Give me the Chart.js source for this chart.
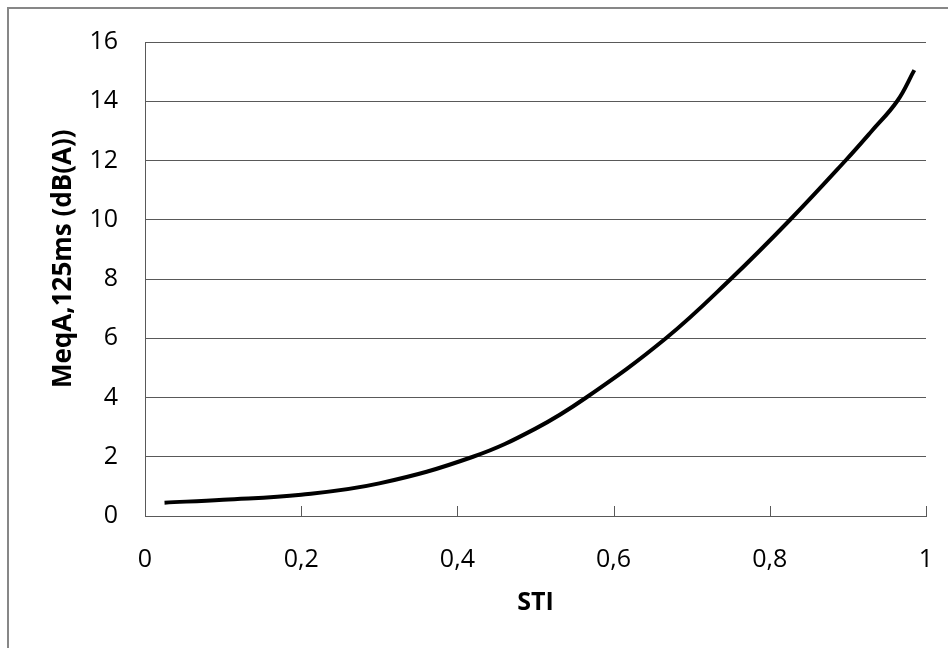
<!DOCTYPE html>
<html>
<head>
<meta charset="utf-8">
<script src="https://cdn.jsdelivr.net/npm/chart.js@4.4.1/dist/chart.umd.min.js"></script>
<style>
  html, body { margin: 0; padding: 0; background: #fff; }
  #wrap { position: relative; width: 948px; height: 648px; }
  #frame { position: absolute; left: 7px; top: 7px; width: 960px; height: 660px; border: 2px solid #878787; box-sizing: border-box; }
  canvas { position: absolute; left: 0; top: 0; }
</style>
</head>
<body>
<div id="wrap">
  <div id="frame"></div>
  <canvas id="chart" width="948" height="648"></canvas>
</div>
<script>
// STI vs MeqA,125ms curve
const sti  = [0.025, 0.1, 0.2, 0.3, 0.42, 0.5, 0.565, 0.667, 0.75, 0.826, 0.897, 0.93, 0.963, 0.985];
const meqA = [0.45, 0.55, 0.72, 1.1, 2.0, 2.95, 4.0, 6.0, 8.0, 10.0, 12.0, 12.98, 14.0, 15.05];
const xTicks = [0, 0.2, 0.4, 0.6, 0.8, 1];

const font = 'Open Sans';

// small inward tick marks on the x axis, like the original
const innerTicks = {
    id: 'innerTicks',
    afterDraw(chart) {
        const ctx = chart.ctx;
        const x = chart.scales.x;
        const y = chart.scales.y;
        const base = y.getPixelForValue(0);
        ctx.save();
        ctx.strokeStyle = '#595959';
        ctx.lineWidth = 1;
        xTicks.forEach(v => {
            const px = Math.round(x.getPixelForValue(v)) + 0.5;
            ctx.beginPath();
            ctx.moveTo(px, base);
            ctx.lineTo(px, base - 10);
            ctx.stroke();
        });
        ctx.restore();
    }
};

new Chart(document.getElementById('chart'), {
    type: 'scatter',
    data: {
        datasets: [{
            label: 'MeqA',
            data: sti.map((v, i) => ({x: v, y: meqA[i]})),
            showLine: true,
            borderColor: '#000',
            borderWidth: 4,
            pointRadius: 0,
            tension: 0.4
        }]
    },
    options: {
        responsive: false,
        animation: false,
        layout: {
            padding: {left: 0, top: 41, right: 22, bottom: 0}
        },
        plugins: {
            legend: {display: false},
            tooltip: {enabled: false}
        },
        scales: {
            x: {
                type: 'linear',
                min: 0,
                max: 1,
                afterFit: s => {
                    s.height = 132;
                    // keep the tick padding from eating horizontal room
                    s.paddingLeft = 0;
                    s.paddingRight = 0;
                },
                afterBuildTicks: s => { s.ticks = xTicks.map(v => ({value: v})); },
                grid: {display: false, drawTicks: false},
                border: {color: '#595959', width: 1},
                ticks: {
                    padding: 29,
                    color: '#000',
                    font: {family: font, size: 25},
                    callback: v => String(v).replace('.', ',')
                },
                title: {
                    display: true,
                    text: 'STI',
                    color: '#000',
                    font: {family: font, size: 25, weight: 'bold'},
                    padding: {bottom: 30}
                }
            },
            y: {
                min: 0,
                max: 16,
                afterFit: s => { s.width = 145; },
                grid: {color: '#595959', drawTicks: false},
                border: {color: '#595959', width: 1},
                ticks: {
                    stepSize: 2,
                    padding: 27,
                    color: '#000',
                    font: {family: font, size: 25}
                },
                title: {
                    display: true,
                    text: '      MeqA,125ms (dB(A))',
                    color: '#000',
                    font: {family: font, size: 26, weight: 'bold'},
                    padding: {top: 48}
                }
            }
        }
    },
    plugins: [innerTicks]
});
</script>
</body>
</html>
